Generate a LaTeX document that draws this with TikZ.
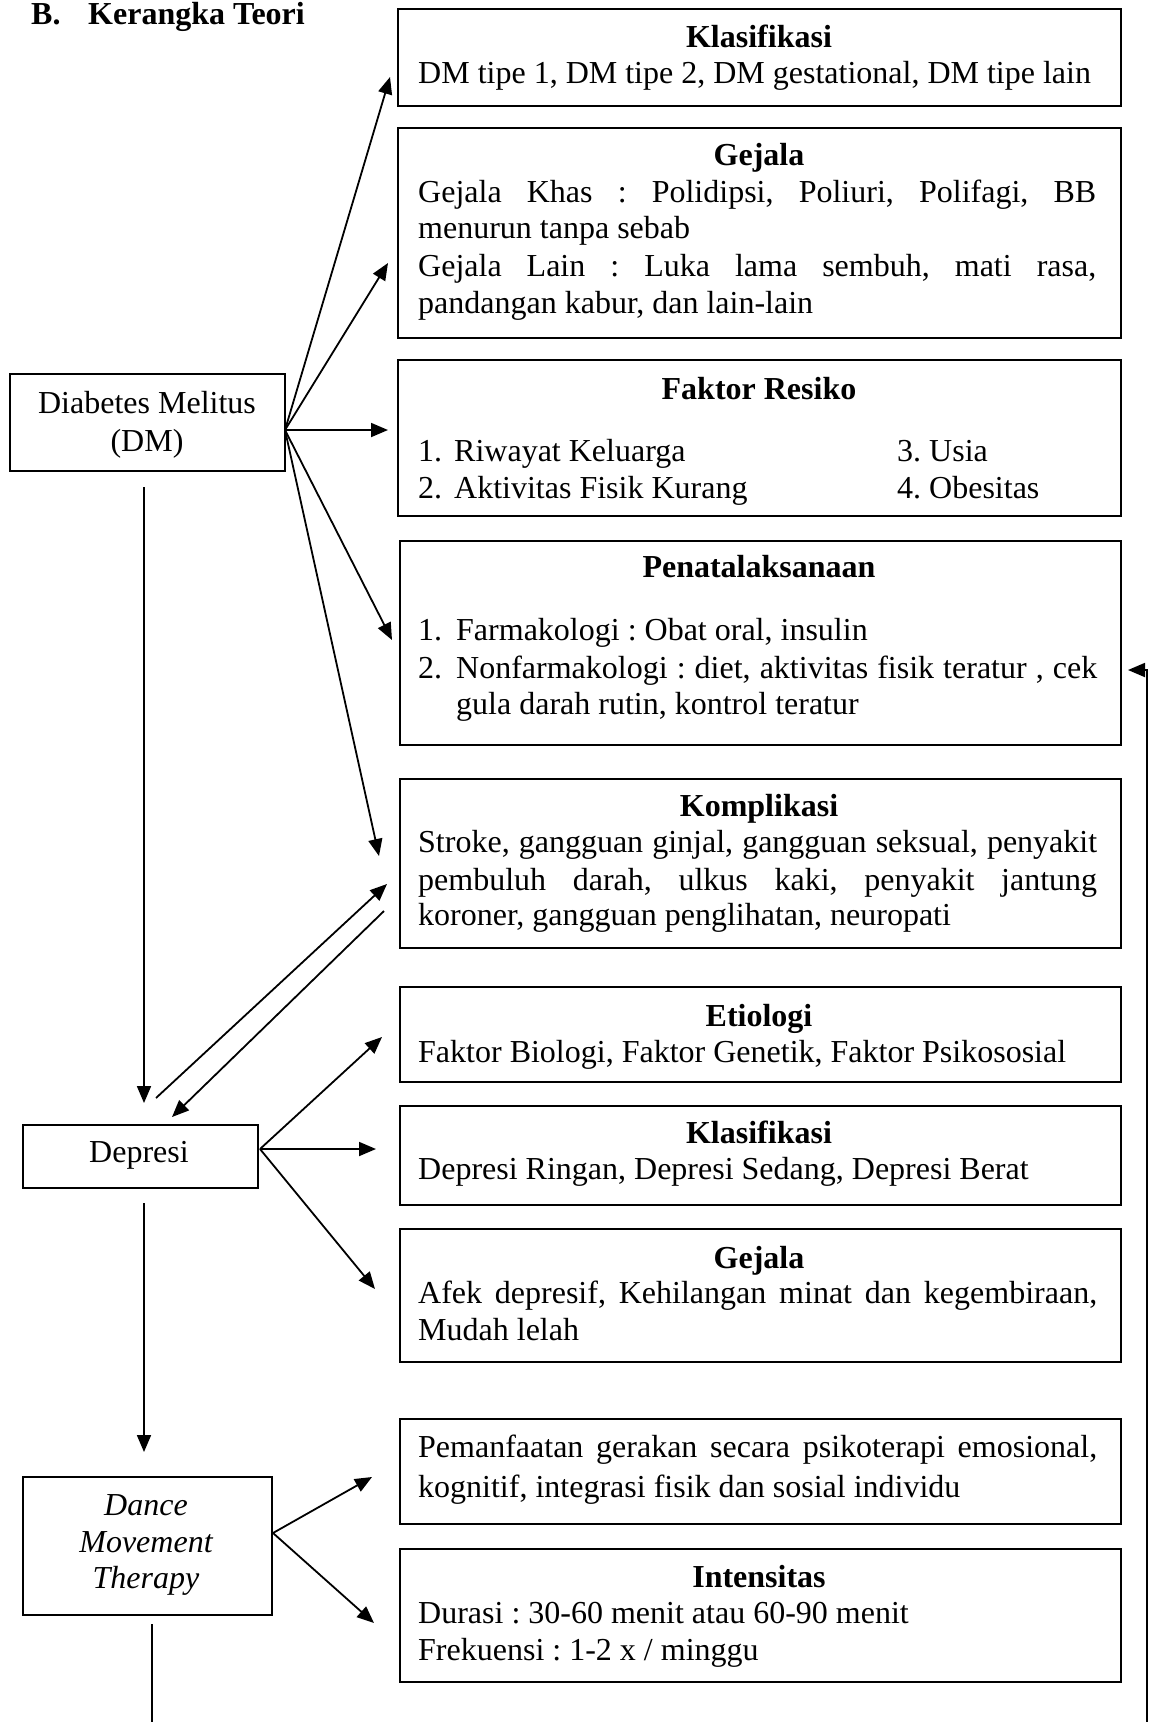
\documentclass[tikz,border=0pt]{standalone}
\usepackage{fontspec}
\setmainfont{Liberation Serif}
\usetikzlibrary{arrows.meta}
\frenchspacing
\begin{document}
\frenchspacing
\begin{tikzpicture}[x=1pt,y=-1pt,
  box/.style={draw, line width=2pt, anchor=north west, inner sep=0pt},
  txt/.style={anchor=base west, inner sep=0pt, font=\fontsize{32}{36.8}\selectfont\frenchspacing},
  head/.style={anchor=base, inner sep=0pt, font=\fontsize{32}{36.8}\selectfont\bfseries},
  ctr/.style={anchor=base, inner sep=0pt, font=\fontsize{32}{36.8}\selectfont},
  arr/.style={line width=1.8pt, -{Triangle[length=17pt,width=14pt]}},
  ln/.style={line width=1.8pt}]
\useasboundingbox (0,0) rectangle (1149,1722);

% title
\node[txt, font=\fontsize{32}{36.8}\selectfont\bfseries] (title) at (31,24) {\makebox[57pt][l]{B.}Kerangka Teori};

% right boxes
\node[box, minimum width=723pt, minimum height=97pt]  (b1)  at (397,8) {};
\node[box, minimum width=723pt, minimum height=210pt] (b2)  at (397,127) {};
\node[box, minimum width=723pt, minimum height=156pt] (b3)  at (397,359) {};
\node[box, minimum width=721pt, minimum height=204pt] (b4)  at (399,540) {};
\node[box, minimum width=721pt, minimum height=169pt] (b5)  at (399,778) {};
\node[box, minimum width=721pt, minimum height=95pt]  (b6)  at (399,986) {};
\node[box, minimum width=721pt, minimum height=99pt]  (b7)  at (399,1105) {};
\node[box, minimum width=721pt, minimum height=133pt] (b8)  at (399,1228) {};
\node[box, minimum width=721pt, minimum height=105pt] (b9)  at (399,1418) {};
\node[box, minimum width=721pt, minimum height=133pt] (b10) at (399,1548) {};

% left boxes
\node[box, minimum width=275pt, minimum height=97pt]  (dm)  at (9,373) {};
\node[box, minimum width=235pt, minimum height=63pt]  (dep) at (22,1124) {};
\node[box, minimum width=249pt, minimum height=138pt] (dmt) at (22,1476) {};

% texts box 1
\node[head] (h1) at (759,47) {Klasifikasi};
\node[txt] (l1a) at (418,83) {DM tipe 1, DM tipe 2, DM gestational, DM tipe lain};
% box 2
\node[head] (h2) at (759,165) {Gejala};
\node[txt] (l2a) at (418,202) {\makebox[678pt][s]{Gejala Khas : Polidipsi, Poliuri, Polifagi, BB}};
\node[txt] (l2b) at (418,238) {menurun tanpa sebab};
\node[txt] (l2c) at (418,276) {\makebox[678pt][s]{Gejala Lain : Luka lama sembuh, mati rasa,}};
\node[txt] (l2d) at (418,313) {pandangan kabur, dan lain-lain};
% box 3
\node[head] (h3) at (759,399) {Faktor Resiko};
\node[txt] (l3n1) at (418,461) {1.};
\node[txt] (l3a) at (454,461) {Riwayat Keluarga};
\node[txt] (l3n2) at (418,498) {2.};
\node[txt] (l3b) at (454,498) {Aktivitas Fisik Kurang};
\node[txt] (l3c) at (897,461) {3. Usia};
\node[txt] (l3d) at (897,498) {4. Obesitas};
% box 4
\node[head] (h4) at (759,577) {Penatalaksanaan};
\node[txt] (l4n1) at (418,640) {1.};
\node[txt] (l4a) at (456,640) {Farmakologi : Obat oral, insulin};
\node[txt] (l4n2) at (418,678) {2.};
\node[txt] (l4b) at (456,678) {\makebox[641pt][s]{Nonfarmakologi : diet, aktivitas fisik teratur , cek}};
\node[txt] (l4c) at (456,714) {gula darah rutin, kontrol teratur};
% box 5
\node[head] (h5) at (759,816) {Komplikasi};
\node[txt] (l5a) at (418,852) {\makebox[679pt][s]{Stroke, gangguan ginjal, gangguan seksual, penyakit}};
\node[txt] (l5b) at (418,890) {\makebox[679pt][s]{pembuluh darah, ulkus kaki, penyakit jantung}};
\node[txt] (l5c) at (418,925) {koroner, gangguan penglihatan, neuropati};
% box 6
\node[head] (h6) at (759,1026) {Etiologi};
\node[txt] (l6a) at (418,1062) {Faktor Biologi, Faktor Genetik, Faktor Psikososial};
% box 7
\node[head] (h7) at (759,1143) {Klasifikasi};
\node[txt] (l7a) at (418,1179) {Depresi Ringan, Depresi Sedang, Depresi Berat};
% box 8
\node[head] (h8) at (759,1268) {Gejala};
\node[txt] (l8a) at (418,1303) {\makebox[679pt][s]{Afek depresif, Kehilangan minat dan kegembiraan,}};
\node[txt] (l8b) at (418,1340) {Mudah lelah};
% box 9
\node[txt] (l9a) at (418,1457) {\makebox[679pt][s]{Pemanfaatan gerakan secara psikoterapi emosional,}};
\node[txt] (l9b) at (418,1497) {kognitif, integrasi fisik dan sosial individu};
% box 10
\node[head] (h10) at (759,1587) {Intensitas};
\node[txt] (l10a) at (418,1623) {Durasi : 30-60 menit atau 60-90 menit};
\node[txt] (l10b) at (418,1660) {Frekuensi : 1-2 x / minggu};

% left texts
\node[ctr] (dmt1) at (147,413) {Diabetes Melitus};
\node[ctr] (dmt2) at (147,451) {(DM)};
\node[ctr] (dept) at (139,1162) {Depresi};
\node[ctr, font=\fontsize{32}{36.8}\selectfont\itshape] (dmtt1) at (146,1515) {Dance};
\node[ctr, font=\fontsize{32}{36.8}\selectfont\itshape] (dmtt2) at (146,1552) {Movement};
\node[ctr, font=\fontsize{32}{36.8}\selectfont\itshape] (dmtt3) at (146,1588) {Therapy};

% connector coordinates
\coordinate (dmo) at (285,430);
\coordinate (t1) at (390,77);
\coordinate (t2) at (388,263);
\coordinate (t3) at (388,430);
\coordinate (t4) at (392,640);
\coordinate (t5) at (379,856);
\coordinate (dmd) at (144,487);
\coordinate (depu) at (144,1103);
\coordinate (a1) at (156,1098);
\coordinate (a2) at (387,884);
\coordinate (b1s) at (384,911);
\coordinate (b2s) at (172,1117);
\coordinate (depo) at (260,1149);
\coordinate (t6) at (382,1037);
\coordinate (t7) at (376,1149);
\coordinate (t8) at (375,1289);
\coordinate (depd) at (144,1203);
\coordinate (dmtu) at (144,1452);
\coordinate (dmto) at (273,1533);
\coordinate (t9) at (372,1477);
\coordinate (t10) at (374,1623);
\coordinate (dmtd) at (152,1624);
\coordinate (dmte) at (152,1722);
\coordinate (r1) at (1147,1722);
\coordinate (r2) at (1147,670);
\coordinate (t4b) at (1128,670);

% connectors
\draw[arr] (dmo) -- (t1);
\draw[arr] (dmo) -- (t2);
\draw[arr] (dmo) -- (t3);
\draw[arr] (dmo) -- (t4);
\draw[arr] (dmo) -- (t5);
\draw[arr] (dmd) -- (depu);
\draw[arr] (a1) -- (a2);
\draw[arr] (b1s) -- (b2s);
\draw[arr] (depo) -- (t6);
\draw[arr] (depo) -- (t7);
\draw[arr] (depo) -- (t8);
\draw[arr] (depd) -- (dmtu);
\draw[arr] (dmto) -- (t9);
\draw[arr] (dmto) -- (t10);
\draw[ln] (dmtd) -- (dmte);
\draw[arr] (r1) -- (r2) -- (t4b);
\end{tikzpicture}
\end{document}
